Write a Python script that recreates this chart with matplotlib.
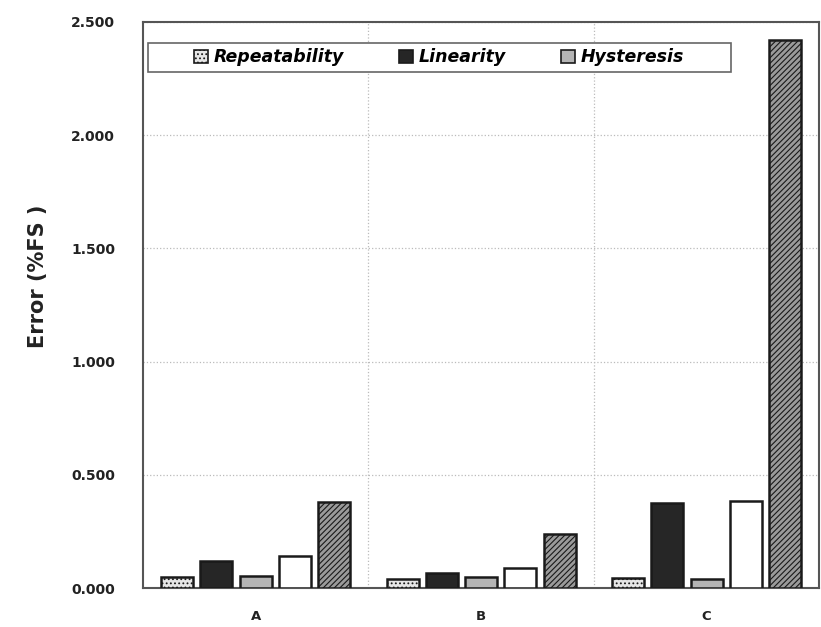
import numpy as np
import matplotlib.pyplot as plt
from matplotlib.patches import Rectangle

OUT = "out.png"

groups = ["A", "B", "C"]
legend_names = ["Repeatability", "Linearity", "Hysteresis"]
# five bars per group (%FS)
s1 = [0.050, 0.040, 0.045]
s2 = [0.120, 0.065, 0.375]
s3 = [0.055, 0.050, 0.040]
s4 = [0.140, 0.090, 0.385]
s5 = [0.380, 0.240, 2.420]

yticks = [0.0, 0.5, 1.0, 1.5, 2.0, 2.5]


def main():
    plt.rcParams["hatch.linewidth"] = 0.8
    fig = plt.figure(figsize=(8.21, 6.27), dpi=100)
    ax = fig.add_axes([0.174, 0.062, 0.824, 0.903])

    x = np.arange(len(groups))
    step, width = 0.174, 0.142
    styles = [
        dict(color="#e6e6e6", hatch="....", label=legend_names[0]),
        dict(color="#262626", hatch=None, label=legend_names[1]),
        dict(color="#b4b4b4", hatch=None, label=legend_names[2]),
        dict(color="white", hatch=None, label="_s4"),
        dict(color="#9a9a9a", hatch="//////", label="_s5"),
    ]
    for i, (vals, st) in enumerate(zip([s1, s2, s3, s4, s5], styles)):
        ax.bar(x + (i - 2) * step, vals, width, color=st["color"],
               hatch=st["hatch"], edgecolor="#1a1a1a", linewidth=1.8,
               label=st["label"], zorder=3)

    ax.set_xlim(-0.5, 2.5)
    ax.set_ylim(0, 2.5)
    ax.set_yticks(yticks)
    ax.set_yticklabels([f"{v:.3f}" for v in yticks], fontweight="bold",
                       fontsize=10, color="#222")
    ax.set_xticks(x)
    ax.set_xticklabels(groups, fontweight="bold", fontsize=9.5, color="#222")
    ax.set_xticks([0.5, 1.5], minor=True)
    ax.tick_params(axis="both", which="both", length=0)
    ax.tick_params(axis="y", pad=20)
    ax.tick_params(axis="x", pad=16)
    ax.grid(True, axis="y", which="major", ls=":", color="#bbbbbb", lw=0.9)
    ax.grid(True, axis="x", which="minor", ls=":", color="#bbbbbb", lw=0.9)
    ax.grid(False, axis="x", which="major")
    ax.set_axisbelow(True)
    for sp in ax.spines.values():
        sp.set_color("#555555")
        sp.set_linewidth(1.5)

    ax.set_ylabel("Error (%FS )", fontsize=15, fontweight="bold", color="#222")
    ax.yaxis.set_label_coords(-0.14, 0.55)

    # legend frame drawn separately so the entries sit centred in a wide box
    ax.add_patch(Rectangle((0.007, 0.912), 0.862, 0.051, transform=ax.transAxes,
                           facecolor="white", edgecolor="#666666", lw=1.2,
                           zorder=4))
    leg = ax.legend(loc="center", bbox_to_anchor=(0.438, 0.9375), ncol=3,
                    frameon=False,
                    prop=dict(weight="bold", style="italic", size=12.5),
                    handlelength=0.8, handleheight=0.8, handletextpad=0.3,
                    columnspacing=3.2, borderpad=0.2)
    leg.set_zorder(5)
    for h in leg.legend_handles:
        h.set_linewidth(1.2)

    fig.savefig(OUT)


if __name__ == "__main__":
    main()
